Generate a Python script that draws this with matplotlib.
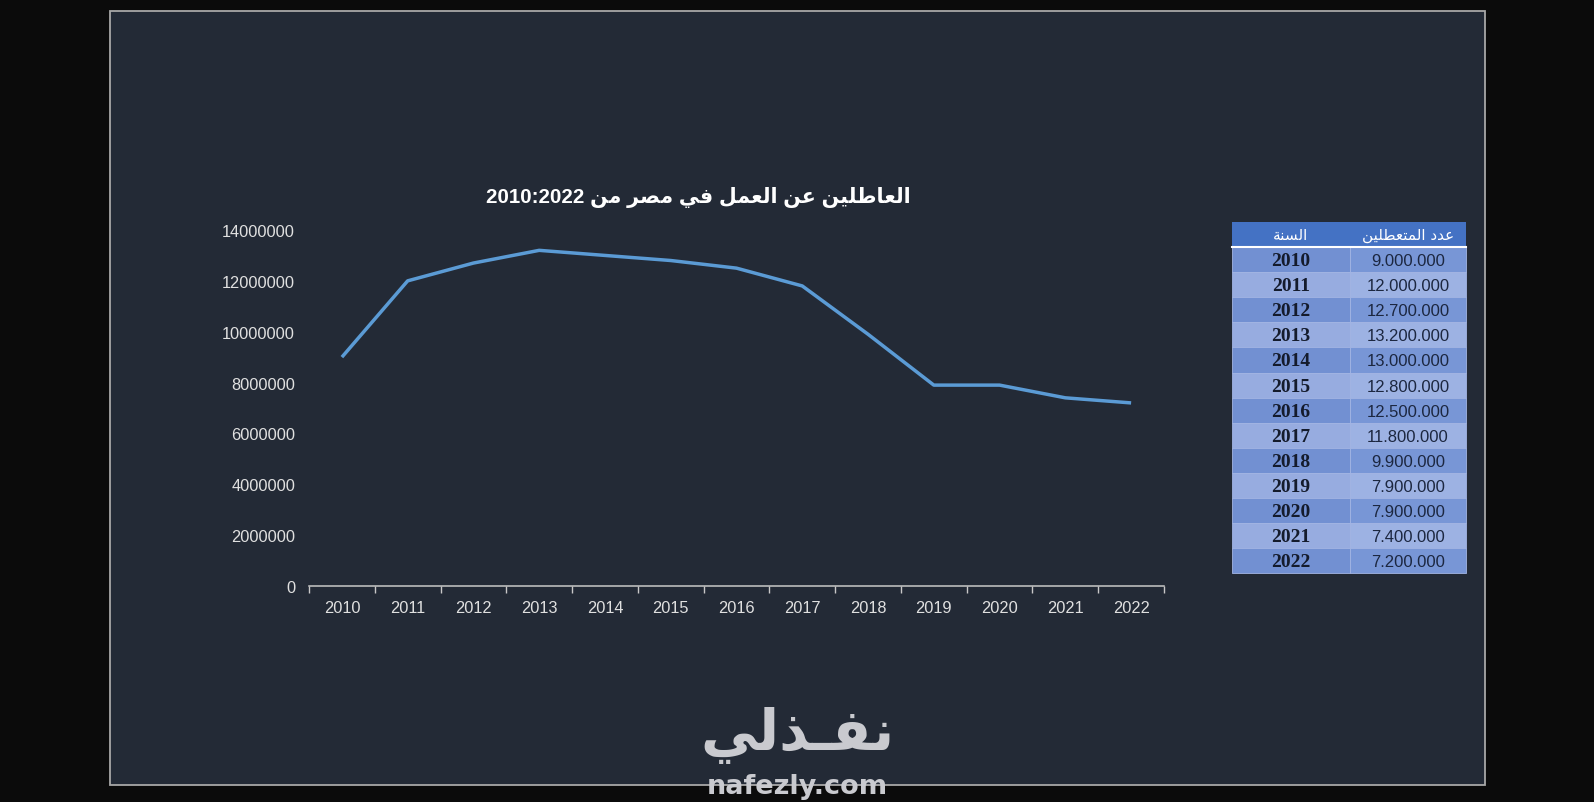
import matplotlib
matplotlib.use('Agg')
import matplotlib.pyplot as plt
from matplotlib.patches import Rectangle

# data
years = [2010, 2011, 2012, 2013, 2014, 2015, 2016, 2017, 2018, 2019, 2020, 2021, 2022]
unemployed = [9000000, 12000000, 12700000, 13200000, 13000000, 12800000, 12500000,
              11800000, 9900000, 7900000, 7900000, 7400000, 7200000]
y_ticks = [0, 2000000, 4000000, 6000000, 8000000, 10000000, 12000000, 14000000]
title_ar = 'العاطلين عن العمل في مصر من'
title_num = '2010:2022'
head_year = 'السنة'
head_count = 'عدد المتعطلين'
logo_ar = 'نفـذلي'
logo_en = 'nafezly.com'

# tiny arabic shaper (matplotlib has no shaping / bidi)
BASE = {'ا': 0xFE8D, 'ة': 0xFE93, 'ت': 0xFE95, 'د': 0xFEA9, 'ذ': 0xFEAB, 'ر': 0xFEAD,
        'س': 0xFEB1, 'ص': 0xFEB9, 'ط': 0xFEC1, 'ع': 0xFEC9, 'ف': 0xFED1, 'ل': 0xFEDD,
        'م': 0xFEE1, 'ن': 0xFEE5, 'ي': 0xFEF1}
RIGHT_ONLY = set('اةدذر')
JOINERS = set(BASE) | {'ـ'}


def shape(s):
    out = []
    for i, c in enumerate(s):
        if c not in BASE:
            out.append(c)
            continue
        prev = s[i - 1] if i > 0 else ''
        nxt = s[i + 1] if i + 1 < len(s) else ''
        jp = prev in JOINERS and prev not in RIGHT_ONLY
        jn = c not in RIGHT_ONLY and nxt in JOINERS
        b = BASE[c]
        if jp and jn:
            out.append(chr(b + 3))
        elif jp:
            out.append(chr(b + 1))
        elif jn:
            out.append(chr(b + 2))
        else:
            out.append(chr(b))
    return ''.join(out)[::-1]


W, H = 1594, 803
fig = plt.figure(figsize=(W / 100, H / 100), dpi=100, facecolor='#0b0b0b')

# background panel + table, drawn in pixel coords
bg = fig.add_axes([0, 0, 1, 1], zorder=0)
bg.set_xlim(0, W)
bg.set_ylim(H, 0)
bg.axis('off')
bg.add_patch(Rectangle((110, 12), 1375, 774, facecolor='#232a36', edgecolor='#a8a8a8', lw=1.3))

tx0, tx1, tx2 = 1232, 1350, 1466
ty0, hh, rh = 223, 25, 25.1
bg.add_patch(Rectangle((tx0, ty0), tx2 - tx0, hh, facecolor='#4472c4', edgecolor='none'))
bg.text((tx0 + tx1) / 2, ty0 + hh / 2, shape(head_year), color='white', fontsize=11,
        ha='center', va='center', family=['DejaVu Sans'])
bg.text((tx1 + tx2) / 2, ty0 + hh / 2, shape(head_count), color='white', fontsize=11,
        ha='center', va='center', family=['DejaVu Sans'])
for i, (yr, v) in enumerate(zip(years, unemployed)):
    top = ty0 + hh + i * rh
    c1 = '#7290d2' if i % 2 == 0 else '#97ace0'
    c2 = '#7896d6' if i % 2 == 0 else '#9db2e3'
    bg.add_patch(Rectangle((tx0, top), tx1 - tx0, rh, facecolor=c1, edgecolor='#a3b5e4', lw=0.6))
    bg.add_patch(Rectangle((tx1, top), tx2 - tx1, rh, facecolor=c2, edgecolor='#a3b5e4', lw=0.6))
    bg.text((tx0 + tx1) / 2, top + rh / 2 + 1, str(yr), color='#141b2c', fontsize=14,
            fontweight='bold', family='Liberation Serif', ha='center', va='center')
    bg.text((tx1 + tx2) / 2, top + rh / 2 + 1, '{:,}'.format(v).replace(',', '.'),
            color='#1c2740', fontsize=12, family='Liberation Sans', ha='center', va='center')
bg.plot([tx0, tx2], [ty0 + hh, ty0 + hh], color='white', lw=1.5)

# line chart
ax = fig.add_axes([309 / W, 1 - 587 / H, (1164 - 309) / W, (587 - 231) / H], zorder=1)
ax.patch.set_alpha(0)
x = list(range(len(years)))
ax.plot(x, unemployed, color='#5b9bd5', lw=2.5, solid_capstyle='butt')
ax.set_xlim(-0.5, len(years) - 0.5)
ax.set_ylim(0, 14000000)
ax.set_yticks(y_ticks)
ax.set_yticklabels([str(t) for t in y_ticks])
ax.set_xticks(x)
ax.set_xticklabels([str(y) for y in years])
ax.set_xticks([i - 0.5 for i in range(len(years) + 1)], minor=True)
for s in ['top', 'right', 'left']:
    ax.spines[s].set_visible(False)
ax.spines['bottom'].set_color('#c8c8c8')
ax.spines['bottom'].set_linewidth(1.1)
ax.tick_params(axis='y', length=0, pad=10, labelcolor='#e0e0e0', labelsize=11.8)
ax.tick_params(axis='x', which='major', length=0, pad=10, labelcolor='#e0e0e0', labelsize=11.8)
ax.tick_params(axis='x', which='minor', length=5, color='#c8c8c8', width=1)
for lab in ax.get_xticklabels() + ax.get_yticklabels():
    lab.set_family('Liberation Sans')

fig.text(698 / W, 1 - 197 / H, title_num + ' ' + shape(title_ar), color='white',
         fontsize=14.8, fontweight='bold', family=['Liberation Sans', 'DejaVu Sans'],
         ha='center', va='center')

# watermark
fig.text(797 / W, 1 - 736 / H, shape(logo_ar), color='#c9cacf', fontsize=41,
         fontweight='bold', family=['DejaVu Sans'], ha='center', va='center', zorder=10)
fig.text(797 / W, 1 - 787 / H, logo_en, color='#c9cacf', fontsize=19.5,
         fontweight='bold', family=['DejaVu Sans'], ha='center', va='center', zorder=10)

fig.savefig('out.png', dpi=100, facecolor=fig.get_facecolor())
